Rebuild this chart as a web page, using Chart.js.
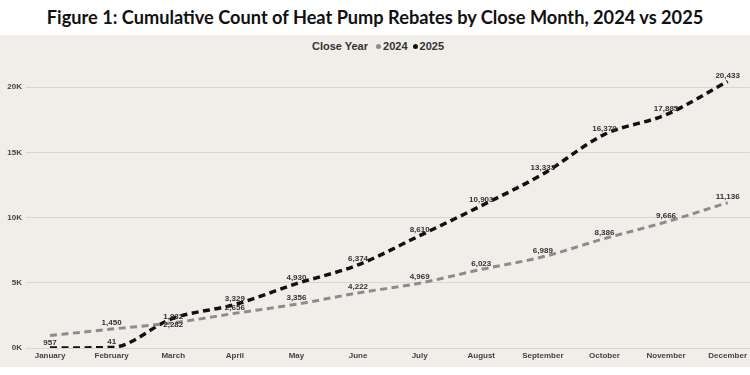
<!DOCTYPE html>
<html>
<head>
<meta charset="utf-8">
<script src="https://cdn.jsdelivr.net/npm/chart.js@4"></script>
<style>
  body { margin: 0; background: #fff; width: 750px; height: 375px; overflow: hidden; }
  .title { height: 35px; line-height: 34px; text-align: center; font-family: Lato, sans-serif; font-weight: 700; font-size: 18.2px; color: #111; }
  .panel { position: absolute; top: 35px; left: 0; width: 750px; height: 332px; background: #f1eeea; }
  .legend { position: absolute; top: 5px; left: 0; width: 756px; text-align: center; font: bold 11px "Liberation Sans", Arial, sans-serif; color: #333; }
  .legend .dot { display: inline-block; width: 5px; height: 5px; border-radius: 50%; margin: 0 2px 1px 5px; vertical-align: middle; }
  canvas { position: absolute; top: 0; left: 0; }
</style>
</head>
<body>
<div class="title">Figure 1: Cumulative Count of Heat Pump Rebates by Close Month, 2024 vs 2025</div>
<div class="panel">
  <div class="legend" id="legend"></div>
  <canvas id="myChart" width="750" height="332"></canvas>
</div>
<script>
const months = ["January", "February", "March", "April", "May", "June", "July", "August", "September", "October", "November", "December"];
const years = ["2024", "2025"];
const rebates2024 = [957, 1450, 1932, 2656, 3356, 4222, 4969, 6023, 6989, 8386, 9666, 11136];
const rebates2025 = [0, 41, 2282, 3329, 4930, 6374, 8610, 10903, 13333, 16370, 17885, 20433];
const yTicks = [0, 5000, 10000, 15000, 20000];
const colors = ["#8c8c8c", "#111111"];

// labels that Tableau pushed under the line
const labelsBelow = { 0: [0], 1: [2] };

const legend = document.getElementById("legend");
legend.innerHTML = "Close Year " + years.map((y, i) =>
  '<span class="dot" style="background:' + colors[i] + '"></span>' + y).join("");

const pointLabels = {
  id: "pointLabels",
  afterDatasetsDraw(chart) {
    const ctx = chart.ctx;
    ctx.save();
    ctx.font = "bold 8px 'Liberation Sans', Arial, sans-serif";
    ctx.fillStyle = "#333";
    ctx.textAlign = "center";
    chart.data.datasets.forEach((ds, di) => {
      chart.getDatasetMeta(di).data.forEach((pt, i) => {
        const v = ds.data[i].y;
        if (!v) return;
        const below = (labelsBelow[di] || []).includes(i);
        ctx.textBaseline = below ? "top" : "bottom";
        ctx.fillText(v.toLocaleString("en-US"), pt.x, below ? pt.y + 3 : pt.y - 2);
      });
    });
    ctx.restore();
  }
};

const ctx = document.getElementById("myChart");
new Chart(ctx, {
  type: "line",
  data: {
    datasets: [rebates2024, rebates2025].map((vals, i) => ({
      label: years[i],
      data: vals.map((v, j) => ({ x: j, y: v })),
      borderColor: colors[i],
      borderWidth: i ? 3.5 : 3,
      borderDash: [7, 4.5],
      pointRadius: 0,
      cubicInterpolationMode: "monotone",
      fill: false,
    })),
  },
  options: {
    responsive: false,
    animation: false,
    layout: { padding: { top: 26, left: 0, right: 0, bottom: 0 } },
    plugins: { legend: { display: false }, tooltip: { enabled: false } },
    scales: {
      x: {
        type: "linear",
        min: -0.39,
        max: 11.36,
        afterBuildTicks: (axis) => { axis.ticks = months.map((m, i) => ({ value: i })); },
        afterFit: (axis) => { axis.height = 19; },
        ticks: {
          autoSkip: false,
          maxRotation: 0,
          padding: 3,
          color: "#444",
          font: { family: "'Liberation Sans', Arial, sans-serif", size: 8, weight: "bold" },
          callback: (v) => months[v],
        },
        grid: { display: false, drawTicks: false },
        border: { display: false },
      },
      y: {
        min: 0,
        max: 22000,
        afterBuildTicks: (axis) => { axis.ticks = yTicks.map((v) => ({ value: v })); },
        afterFit: (axis) => { axis.width = 26; },
        ticks: {
          padding: 4,
          color: "#444",
          font: { family: "'Liberation Sans', Arial, sans-serif", size: 8, weight: "bold" },
          callback: (v) => v / 1000 + "K",
        },
        grid: { color: "#d9d5cf", lineWidth: 1, drawTicks: false },
        border: { display: false },
      },
    },
  },
  plugins: [pointLabels],
});
</script>
</body>
</html>
